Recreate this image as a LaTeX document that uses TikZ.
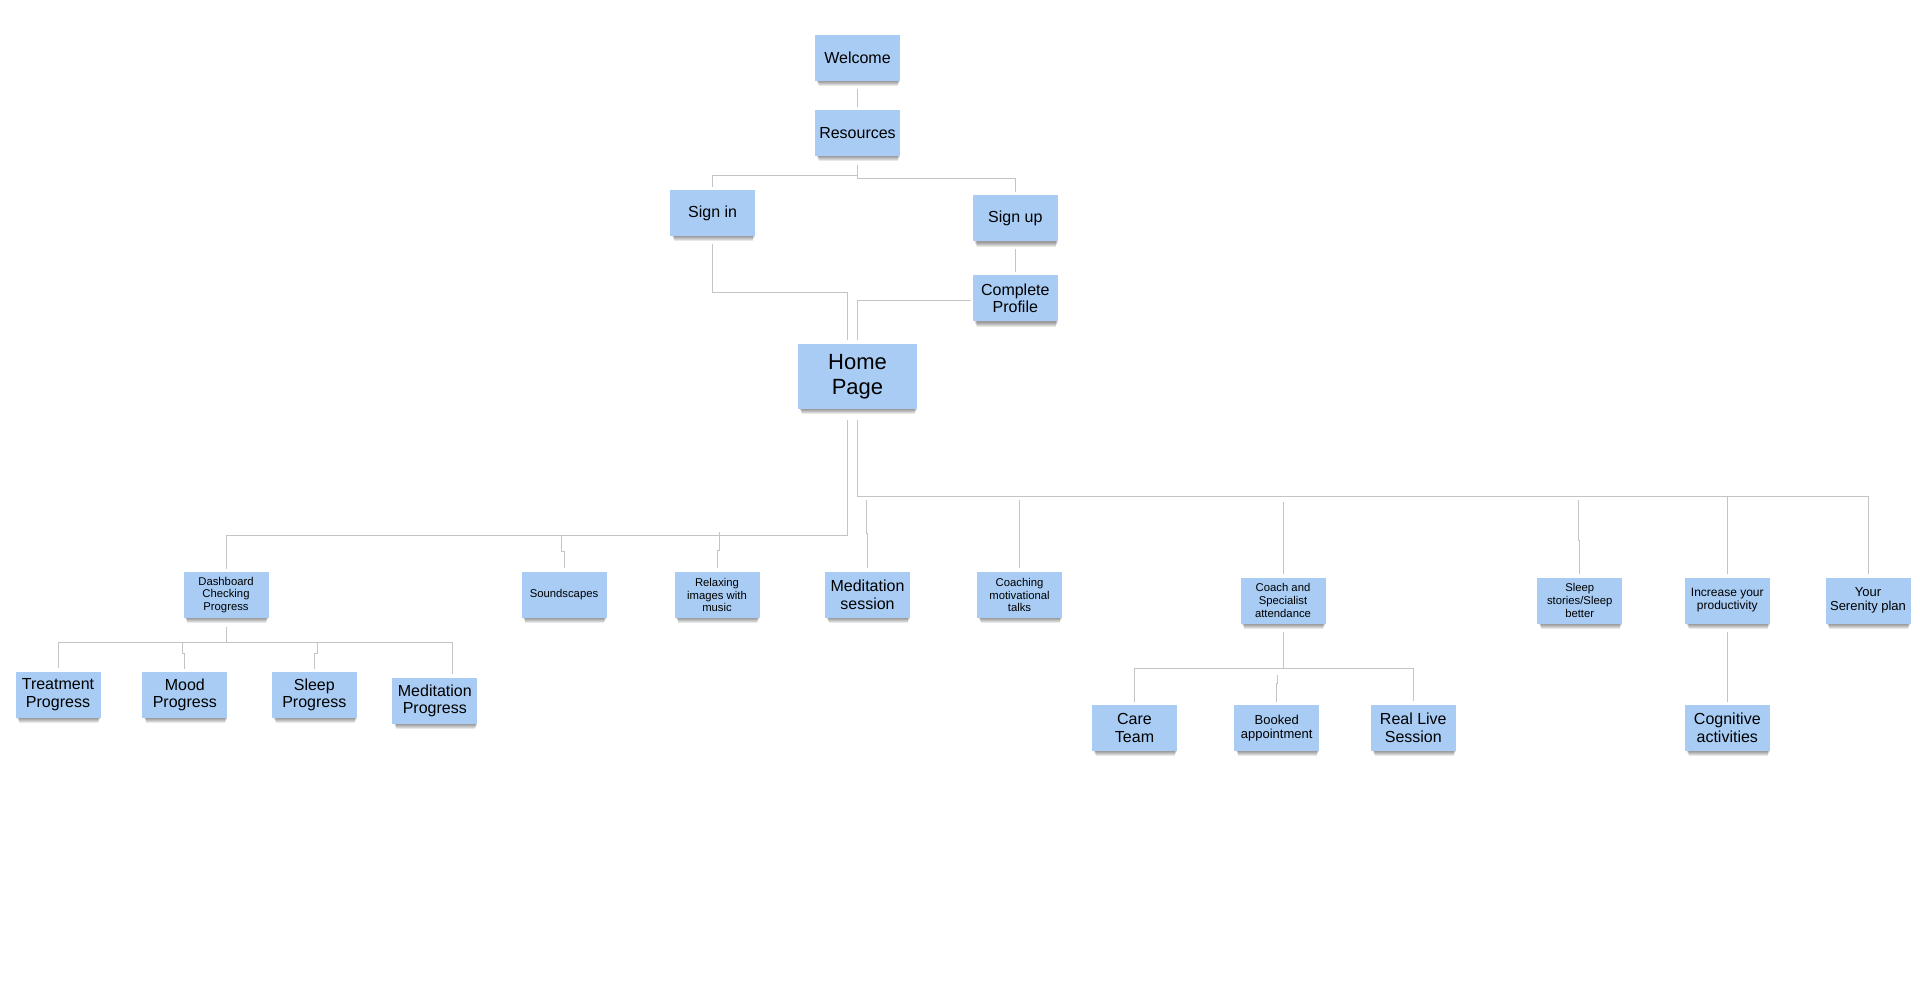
\documentclass[tikz,border=0pt]{standalone}
\usepackage{fontspec}
\setmainfont{Liberation Sans}
\usetikzlibrary{calc}
\definecolor{boxblue}{HTML}{A8CCF4}
\definecolor{linegray}{HTML}{C4C4C4}
\pgfdeclarelayer{bg}
\pgfsetlayers{bg,main}
\tikzset{
  note/.style={fill=boxblue, minimum width=85pt, minimum height=46pt, inner sep=1pt, align=center, text=black, font=\fontsize{16}{17.6}\selectfont},
  small/.style={font=\fontsize{11.3}{12.8}\selectfont},
  midtext/.style={font=\fontsize{13}{14.5}\selectfont},
  midtwelve/.style={font=\fontsize{12}{13}\selectfont},
  bignote/.style={minimum width=119pt, minimum height=65pt, font=\fontsize{22}{25}\selectfont},
  conn/.style={draw=linegray, line width=1pt}
}
\newcommand{\noteshadow}[1]{%
  \foreach \k in {1,...,5}{%
    \fill[black,opacity=0.09] ([xshift={1.5pt+0.5pt*\k},yshift=2pt]#1.south west) rectangle ([xshift={-0.5pt*\k},yshift={-1pt*\k}]#1.south east);}}
\begin{document}
\begin{tikzpicture}[x=1pt,y=-1pt]
\begin{pgfonlayer}{bg}
\fill[white] (0,0) rectangle (1920,1005);
\end{pgfonlayer}
\useasboundingbox (0,0) rectangle (1920,1005);

% nodes
\node[note] (welcome) at (857.5,58) {Welcome};
\node[note] (resources) at (857.5,133) {Resources};
\node[note] (signin) at (712.7,213) {Sign in};
\node[note] (signup) at (1015.3,218.3) {Sign up};
\node[note] (profile) at (1015.3,298.3) {Complete\\Profile};
\node[note,bignote] (home) at (857.5,376.3) {Home\\Page};
\node[note,small] (dash) at (226,595) {Dashboard\\Checking\\Progress};
\node[note,small] (sound) at (564,594.7) {Soundscapes};
\node[note,small] (relax) at (717,595) {Relaxing\\images with\\music};
\node[note] (medsess) at (867.5,595) {Meditation\\session};
\node[note,small] (coaching) at (1019.5,595) {Coaching\\motivational\\talks};
\node[note,small] (coach) at (1283,600.5) {Coach and\\Specialist\\attendance};
\node[note,small] (sleepst) at (1579.7,600.5) {Sleep\\stories/Sleep\\better};
\node[note,midtwelve] (increase) at (1727.3,600.5) {Increase your\\productivity};
\node[note,midtext] (serenity) at (1868,600.5) {Your\\Serenity plan};
\node[note] (care) at (1134.5,728) {Care\\Team};
\node[note,midtext] (booked) at (1276.7,728) {Booked\\appointment};
\node[note] (reallive) at (1413.3,727.5) {Real Live\\Session};
\node[note] (cognitive) at (1727.3,728) {Cognitive\\activities};
\node[note] (treat) at (58,694.7) {Treatment\\Progress};
\node[note] (mood) at (184.8,695) {Mood\\Progress};
\node[note] (sleepp) at (314.3,695) {Sleep\\Progress};
\node[note] (medprog) at (434.8,700.7) {Meditation\\Progress};

% shadows
\begin{pgfonlayer}{bg}
\foreach \n in {welcome,resources,signin,signup,profile,home,dash,sound,relax,medsess,coaching,coach,sleepst,increase,serenity,care,booked,reallive,cognitive,treat,mood,sleepp,medprog}{\noteshadow{\n}}
\end{pgfonlayer}

% connectors
\draw[conn] ([yshift=-8pt]welcome.south) -- ([yshift=3pt]resources.north);
\draw[conn] ([yshift=-9pt]resources.south) -- ++(0,10.7) -| ([yshift=3.3pt]signin.north);
\draw[conn] ([yshift=-9pt]resources.south) -- ++(0,13) -| ([yshift=3.3pt]signup.north);
\draw[conn] ([yshift=-7.7pt]signup.south) -- ([yshift=3.3pt]profile.north);
\draw[conn] ([yshift=-8pt]signin.south) -- ++(0,48.5) -| ([xshift=-10pt,yshift=4pt]home.north);
\draw[conn] ([xshift=-2pt,yshift=-1.7pt]profile.west) -| ([yshift=4pt]home.north);

\coordinate (hL) at ([xshift=-10pt,yshift=-11pt]home.south);
\coordinate (hR) at ([yshift=-11pt]home.south);
\coordinate (busL) at (847.5,535);
\coordinate (busR) at (857.5,496.7);
\draw[conn] (hL) -- (busL) -| ([yshift=3.3pt]dash.north);
\draw[conn] (hR) -- (busR) -| ([yshift=3.5pt]serenity.north);

\coordinate (jS) at (561,535);
\draw[conn] (jS) -- ++(0,16) -- ++(3,0) -- ([yshift=3.5pt]sound.north);
\coordinate (jRx) at (719,532);
\draw[conn] (jRx) -- ++(0,18) -- ++(-2,0) -- ([yshift=3.5pt]relax.north);
\coordinate (jM) at (866,500);
\draw[conn] (jM) -- ++(0,33) -- ++(1.5,0) -- ([yshift=3.5pt]medsess.north);
\coordinate (jC) at (1019.5,500);
\draw[conn] (jC) -- ([yshift=3.5pt]coaching.north);
\coordinate (jCo) at (1283.5,501.7);
\draw[conn] (jCo) -- ++(0,36.3) -- ++(-0.5,0) -- ([yshift=3.3pt]coach.north);
\coordinate (jSl) at (1578,500);
\draw[conn] (jSl) -- ++(0,40) -- ++(1.7,0) -- ([yshift=3.3pt]sleepst.north);
\coordinate (jI) at (1727.3,496.7);
\draw[conn] (jI) -- ([yshift=3.3pt]increase.north);
\draw[conn] ([yshift=-8.5pt]increase.south) -- ([yshift=3.3pt]cognitive.north);

\coordinate (busC) at (1283,668.3);
\draw[conn] ([yshift=-8.7pt]coach.south) -- (busC);
\draw[conn] (busC) -| ([yshift=3.3pt]care.north);
\draw[conn] (busC) -| ([yshift=3.3pt]reallive.north);
\coordinate (jB) at (1277.5,675);
\draw[conn] (jB) -- ++(0,8) -- ++(-0.8,0) -- ([yshift=3.3pt]booked.north);

\coordinate (busD) at (226,642.7);
\draw[conn] ([yshift=-8.4pt]dash.south) -- (busD);
\draw[conn] (busD) -| ([yshift=3.3pt]treat.north);
\draw[conn] (busD) -| ([xshift=17.5pt,yshift=3.3pt]medprog.north);
\coordinate (jMo) at (182.3,643);
\draw[conn] (jMo) -- ++(0,10) -- ++(2.5,0) -- ([yshift=3.3pt]mood.north);
\coordinate (jSp) at (317.3,643);
\draw[conn] (jSp) -- ++(0,10) -- ++(-3,0) -- ([yshift=3.3pt]sleepp.north);
\end{tikzpicture}
\end{document}
